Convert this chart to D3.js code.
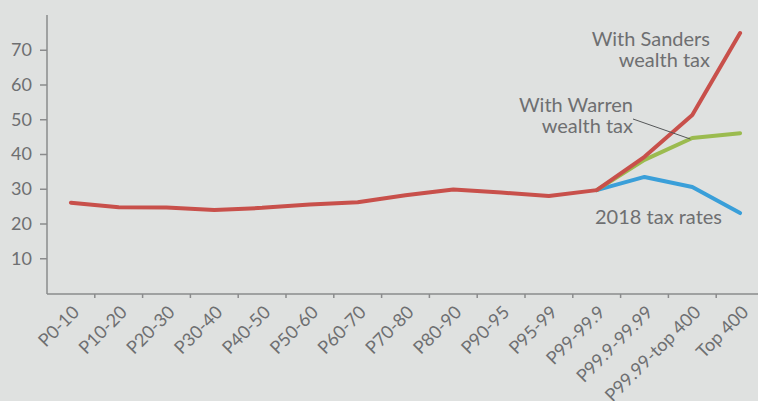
<!DOCTYPE html>
<html>
<head>
<meta charset="utf-8">
<script src="https://cdn.jsdelivr.net/npm/d3@7"></script>
<style>
  body { margin: 0; background: #dfe1e0; }
  svg { display: block; font-family: Lato, "Open Sans", sans-serif; }
</style>
</head>
<body>
<svg id="chart"></svg>
<script>
const categories = ['P0-10', 'P10-20', 'P20-30', 'P30-40', 'P40-50', 'P50-60', 'P60-70',
  'P70-80', 'P80-90', 'P90-95', 'P95-99', 'P99-99.9', 'P99.9-99.99', 'P99.99-top 400', 'Top 400']
const sandersValues = [26.0, 24.7, 24.6, 23.9, 24.5, 25.5, 26.1, 28.1, 29.8, 28.9, 27.9, 29.6, 39.2, 51.2, 74.8]
const warrenCats = ['P99-99.9', 'P99.9-99.99', 'P99.99-top 400', 'Top 400']
const warrenValues = [29.6, 38.3, 44.6, 46.0]
const currentCats = ['P99-99.9', 'P99.9-99.99', 'P99.99-top 400', 'Top 400']
const currentValues = [29.6, 33.4, 30.5, 23.0]
const yTicks = [10, 20, 30, 40, 50, 60, 70]

const width = 758, height = 401
const margin = {top: 15, left: 47, bottom: 293}
const textColor = '#6e6f71'
const axisColor = '#8a8b8c'

const svg = d3.select('#chart')
  .attr('width', width)
  .attr('height', height)

svg.append('rect')
  .attr('width', width).attr('height', height)
  .attr('fill', '#dfe1e0')

const x = d3.scaleBand()
  .domain(categories)
  .range([margin.left, margin.left + 47.8 * categories.length])
  .padding(0)

const y = d3.scaleLinear()
  .domain([0, 80])
  .range([margin.bottom, margin.top])

const cx = d => x(d) + x.bandwidth() / 2

// y axis
const yAxis = d3.axisLeft(y)
  .tickValues(yTicks)
  .tickSize(7)
  .tickSizeOuter(0)
  .tickPadding(8)

const gy = svg.append('g')
  .attr('transform', `translate(${margin.left}, 0)`)
  .call(yAxis)
gy.select('.domain').remove()
gy.selectAll('.tick line').attr('stroke', axisColor).attr('stroke-width', 1.5)
gy.selectAll('.tick text')
  .attr('fill', textColor)
  .attr('font-size', 18)
  .attr('font-family', 'Lato, sans-serif')

svg.append('line')
  .attr('x1', margin.left).attr('x2', margin.left)
  .attr('y1', margin.top).attr('y2', margin.bottom + 1)
  .attr('stroke', axisColor).attr('stroke-width', 1.5)

// x axis
svg.append('line')
  .attr('x1', margin.left).attr('x2', width)
  .attr('y1', margin.bottom + 1).attr('y2', margin.bottom + 1)
  .attr('stroke', axisColor).attr('stroke-width', 1.5)

svg.selectAll('.xtick')
  .data(categories.slice(1))
  .enter().append('line')
    .attr('class', 'xtick')
    .attr('x1', d => x(d)).attr('x2', d => x(d))
    .attr('y1', margin.bottom + 1).attr('y2', margin.bottom + 5)
    .attr('stroke', axisColor).attr('stroke-width', 1.5)

svg.selectAll('.xlabel')
  .data(categories)
  .enter().append('text')
    .attr('class', 'xlabel')
    .attr('transform', d => `translate(${cx(d) + 5}, ${margin.bottom + 16}) rotate(-45)`)
    .attr('text-anchor', 'end')
    .attr('dy', '0.35em')
    .attr('fill', textColor)
    .attr('font-size', 18)
    .text(d => d)

// lines
const line = d3.line()
  .x(d => cx(d[0]))
  .y(d => y(d[1]))

const series = [
  {cats: currentCats, vals: currentValues, color: '#3a9fd9'},
  {cats: warrenCats, vals: warrenValues, color: '#9bbb4f'},
  {cats: categories, vals: sandersValues, color: '#c8504b'}
]

svg.selectAll('.series')
  .data(series)
  .enter().append('path')
    .attr('class', 'series')
    .attr('d', s => line(s.cats.map((c, i) => [c, s.vals[i]])))
    .attr('fill', 'none')
    .attr('stroke', s => s.color)
    .attr('stroke-width', 4)
    .attr('stroke-linejoin', 'round')
    .attr('stroke-linecap', 'round')

// annotations, one text per line
const notes = [
  {text: 'With Sanders', x: 710, y: 46, anchor: 'end'},
  {text: 'wealth tax', x: 710, y: 67, anchor: 'end'},
  {text: 'With Warren', x: 633, y: 112, anchor: 'end'},
  {text: 'wealth tax', x: 633, y: 133, anchor: 'end'},
  {text: '2018 tax rates', x: 595, y: 224, anchor: 'start'}
]

svg.selectAll('.note')
  .data(notes)
  .enter().append('text')
    .attr('class', 'note')
    .attr('x', d => d.x).attr('y', d => d.y)
    .attr('text-anchor', d => d.anchor)
    .attr('fill', textColor)
    .attr('font-size', 20)
    .text(d => d.text)

svg.append('line')
  .attr('x1', 633).attr('y1', 119)
  .attr('x2', cx('P99.99-top 400') - 2).attr('y2', y(warrenValues[2]) + 1)
  .attr('stroke', '#555759').attr('stroke-width', 1)
</script>
</body>
</html>
